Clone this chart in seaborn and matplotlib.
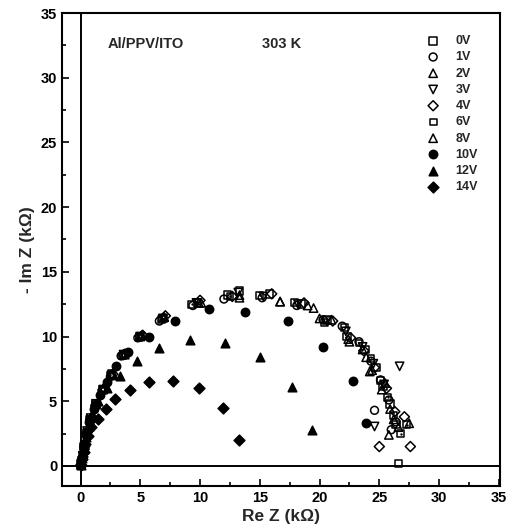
import numpy as np
import pandas as pd
import seaborn as sns
import matplotlib
matplotlib.use("Agg")
import matplotlib.pyplot as plt
from matplotlib.ticker import MultipleLocator

sns.set_style("ticks")
plt.rcParams['font.family'] = ['Liberation Sans', 'DejaVu Sans']

# values (Re Z, -Im Z in kOhm)
x_0v = [0.05, 0.15, 0.3, 0.5, 0.8, 1.3, 1.9, 2.6, 3.6, 5.0, 6.9, 9.8, 12.3, 13.3, 15.8, 18.5, 20.6, 22.3, 23.8, 24.7, 25.3, 25.9, 26.4, 26.6]
y_0v = [0.1, 0.7, 1.5, 2.6, 3.6, 4.8, 5.9, 7.1, 8.6, 10.0, 11.4, 12.6, 13.2, 13.5, 13.3, 12.5, 11.3, 10.0, 9.0, 7.6, 6.2, 4.8, 3.2, 0.2]
x_1v = [0.05, 0.15, 0.3, 0.5, 0.8, 1.2, 1.8, 2.5, 3.4, 4.8, 6.6, 9.4, 12.0, 15.2, 18.1, 20.3, 21.9, 23.3, 24.3, 25.1, 25.8, 26.4, 24.6, 26.0]
y_1v = [0.1, 0.6, 1.4, 2.5, 3.5, 4.6, 5.8, 6.9, 8.5, 9.9, 11.2, 12.4, 12.9, 13.0, 12.4, 11.3, 10.8, 9.6, 8.1, 6.65, 5.1, 3.4, 4.3, 2.8]
x_2v = [0.05, 0.2, 0.35, 0.55, 0.85, 1.3, 1.9, 2.7, 3.7, 5.1, 7.0, 9.9, 13.3, 16.7, 19.0, 20.0, 22.5, 23.9, 24.4, 25.2, 25.9, 26.6]
y_2v = [0.1, 0.8, 1.6, 2.7, 3.7, 4.8, 6.0, 7.1, 8.7, 10.1, 11.5, 12.6, 13.0, 12.7, 12.4, 11.4, 9.6, 8.4, 7.4, 5.9, 4.4, 3.0]
x_3v = [0.05, 0.2, 0.35, 0.55, 0.85, 1.3, 1.9, 2.6, 3.6, 5.0, 6.9, 9.7, 13.2, 15.3, 18.2, 20.6, 22.2, 23.6, 24.5, 25.4, 26.7, 24.6]
y_3v = [0.1, 0.8, 1.6, 2.7, 3.7, 4.8, 5.9, 7.0, 8.6, 10.0, 11.4, 12.6, 13.4, 13.1, 12.5, 11.2, 10.4, 9.2, 7.9, 6.3, 7.7, 3.05]
x_4v = [0.05, 0.2, 0.35, 0.55, 0.85, 1.3, 1.9, 2.7, 3.6, 5.2, 7.1, 10.0, 12.7, 16.0, 18.7, 21.1, 22.6, 23.7, 24.6, 25.6, 26.3, 27.1, 25.0, 27.6]
y_4v = [0.1, 0.7, 1.5, 2.6, 3.6, 4.7, 5.9, 7.1, 8.6, 10.1, 11.6, 12.8, 13.1, 13.3, 12.6, 11.2, 9.9, 8.9, 7.6, 6.0, 4.2, 3.8, 1.5, 1.5]
x_6v = [0.05, 0.2, 0.35, 0.55, 0.85, 1.25, 1.8, 2.5, 3.5, 4.9, 6.8, 9.3, 12.5, 15.0, 17.9, 20.4, 22.1, 23.3, 24.3, 25.1, 25.7, 26.2, 26.8, 27.3]
y_6v = [0.1, 0.7, 1.5, 2.6, 3.6, 4.7, 5.8, 7.0, 8.5, 9.9, 11.3, 12.5, 13.1, 13.2, 12.6, 11.1, 10.7, 9.5, 8.3, 6.6, 5.3, 3.9, 2.5, 3.2]
x_8v = [0.05, 0.2, 0.35, 0.55, 0.85, 1.3, 1.9, 2.6, 3.7, 5.0, 7.0, 10.1, 13.3, 16.7, 19.5, 21.0, 22.4, 23.6, 24.2, 25.5, 26.2, 27.5, 25.8]
y_8v = [0.1, 0.8, 1.6, 2.7, 3.7, 4.8, 5.9, 7.0, 8.6, 10.0, 11.5, 12.6, 13.2, 12.7, 12.2, 11.3, 9.8, 9.0, 7.3, 6.4, 3.6, 3.3, 2.4]
x_10v = [0.05, 0.15, 0.3, 0.5, 0.75, 1.1, 1.6, 2.2, 3.0, 4.0, 5.7, 7.9, 10.75, 13.8, 17.4, 20.3, 22.8, 23.9]
y_10v = [0.1, 0.6, 1.4, 2.4, 3.4, 4.4, 5.5, 6.5, 7.7, 8.8, 9.95, 11.2, 12.1, 11.9, 11.2, 9.2, 6.6, 3.3]
x_12v = [0.05, 0.15, 0.3, 0.45, 0.7, 1.0, 1.5, 2.2, 3.3, 4.7, 6.6, 9.2, 12.1, 15.0, 17.7, 19.4]
y_12v = [0.1, 0.6, 1.3, 2.2, 3.1, 4.0, 5.0, 6.0, 6.95, 8.1, 9.1, 9.7, 9.5, 8.4, 6.1, 2.8]
x_14v = [0.05, 0.15, 0.25, 0.4, 0.6, 0.9, 1.5, 2.1, 2.9, 4.1, 5.7, 7.7, 9.9, 11.9, 13.3]
y_14v = [0.1, 0.5, 1.1, 1.7, 2.3, 3.0, 3.6, 4.4, 5.2, 5.9, 6.45, 6.6, 6.0, 4.45, 2.0]

labels = ['0V', '1V', '2V', '3V', '4V', '6V', '8V', '10V', '12V', '14V']
xs = [x_0v, x_1v, x_2v, x_3v, x_4v, x_6v, x_8v, x_10v, x_12v, x_14v]
ys = [y_0v, y_1v, y_2v, y_3v, y_4v, y_6v, y_8v, y_10v, y_12v, y_14v]
markers = ['s', 'o', '^', 'v', 'D', 's', '^', 'o', '^', 'D']
sizes = [30, 32, 36, 36, 26, 24, 36, 36, 38, 30]
filled = [False, False, False, False, False, False, False, True, True, True]

fig = plt.figure(figsize=(5.14, 5.31), dpi=100)
ax = fig.add_axes([0.1206, 0.0847, 0.8522, 0.8908])

for lab, xv, yv, m, s, f in zip(labels, xs, ys, markers, sizes, filled):
    df = pd.DataFrame({'re': xv, 'im': yv})
    sns.scatterplot(data=df, x='re', y='im', marker=m, s=s, color='black',
                    edgecolor='black', linewidth=1.1, ax=ax, label=lab, zorder=3)
    pts = ax.collections[-1]
    if not f:
        pts.set_facecolor('none')
    if lab == '6V':
        # small dot in the middle of the 6V squares
        ax.scatter(xv, yv, marker='.', s=2, color='black', zorder=4)

ax.axhline(0, color='black', lw=1.4, zorder=2)
ax.axvline(0, color='black', lw=1.4, zorder=2)

ax.set_xlim(-1.55, 35.1)
ax.set_ylim(-1.55, 35)
ax.xaxis.set_major_locator(MultipleLocator(5))
ax.xaxis.set_minor_locator(MultipleLocator(2.5))
ax.yaxis.set_major_locator(MultipleLocator(5))
ax.yaxis.set_minor_locator(MultipleLocator(2.5))
ax.tick_params(which='both', direction='in', width=1.2, colors='black', labelsize=10.5)
ax.tick_params(which='major', length=5)
ax.tick_params(which='minor', length=3)
for t in ax.get_xticklabels() + ax.get_yticklabels():
    t.set_fontweight('bold')
for sp in ax.spines.values():
    sp.set_visible(True)
    sp.set_color('black')
    sp.set_linewidth(1.5)

ax.set_xlabel('Re Z (kΩ)', fontsize=12.5, fontweight='bold', labelpad=3)
ax.set_ylabel('- Im Z (kΩ)', fontsize=12.5, fontweight='bold', labelpad=4)

ax.text(2.3, 32.6, 'Al/PPV/ITO', fontsize=10.5, fontweight='bold', va='center')
ax.text(15.2, 32.6, '303 K', fontsize=10.5, fontweight='bold', va='center')

leg = ax.legend(loc='upper right', bbox_to_anchor=(0.97, 0.972), frameon=False,
                fontsize=9, labelspacing=0.34, handletextpad=1.3, handlelength=1.0,
                borderpad=0.2)
for t in leg.get_texts():
    t.set_fontweight('bold')

fig.savefig('out.png', dpi=100)
